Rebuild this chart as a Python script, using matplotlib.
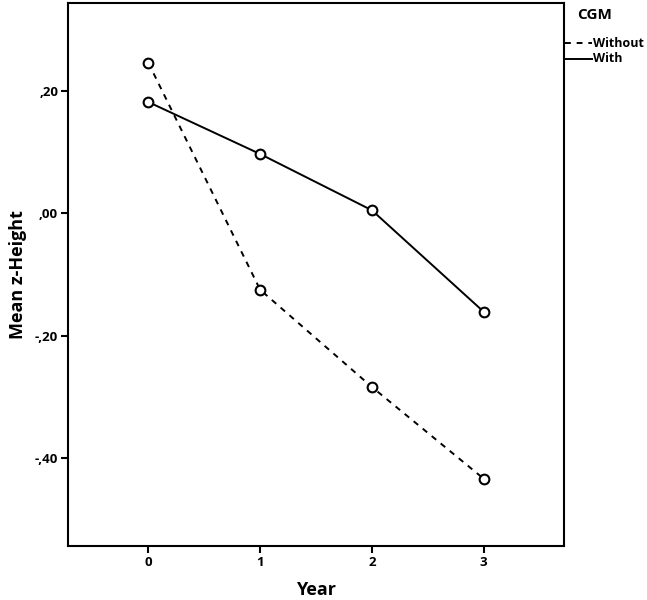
import numpy as np
import matplotlib
matplotlib.use("Agg")
import matplotlib.pyplot as plt
from matplotlib import rcParams

rcParams['font.family'] = ['Open Sans', 'DejaVu Sans']
rcParams['font.weight'] = 'bold'

years = [0, 1, 2, 3]
without_cgm = [0.246, -0.125, -0.284, -0.434]
with_cgm = [0.182, 0.097, 0.005, -0.161]
yticks = [0.20, 0.00, -0.20, -0.40]
ytick_labels = [",20", ",00", "-,20", "-,40"]

fig = plt.figure(figsize=(6.47, 6.0), dpi=100)
ax = fig.add_axes([0.105, 0.09, 0.767, 0.905])

ax.plot(years, without_cgm, color='black', ls=(0, (3, 3)), lw=1.4,
        marker='o', ms=7, mfc='white', mec='black', mew=1.5)
ax.plot(years, with_cgm, color='black', ls='-', lw=1.4,
        marker='o', ms=7, mfc='white', mec='black', mew=1.5)

ax.set_xlim(-0.72, 3.72)
ax.set_ylim(-0.544, 0.344)
ax.set_xticks(years)
ax.set_xticklabels([str(y) for y in years], fontsize=9.5, fontweight='bold')
ax.set_yticks(yticks)
ax.set_yticklabels(ytick_labels, fontsize=9.5, fontweight='bold')
ax.tick_params(length=5, width=1.5, pad=2)
for s in ax.spines.values():
    s.set_linewidth(1.5)

ax.set_xlabel("Year", fontsize=13, fontweight='bold', labelpad=9)
ax.set_ylabel("Mean z-Height", fontsize=13, fontweight='bold', labelpad=6)

# legend drawn by hand, outside the axes on the right
fig.text(0.892, 0.975, "CGM", fontsize=11, fontweight='bold', va='center')
fig.add_artist(plt.Line2D([0.873, 0.915], [0.928, 0.928], color='black',
                          ls=(0, (3, 3)), lw=1.4))
fig.add_artist(plt.Line2D([0.873, 0.915], [0.902, 0.902], color='black',
                          ls='-', lw=1.4))
fig.text(0.917, 0.928, "Without", fontsize=9, fontweight='bold', va='center')
fig.text(0.917, 0.902, "With", fontsize=9, fontweight='bold', va='center')

plt.savefig("out.png", dpi=100)
